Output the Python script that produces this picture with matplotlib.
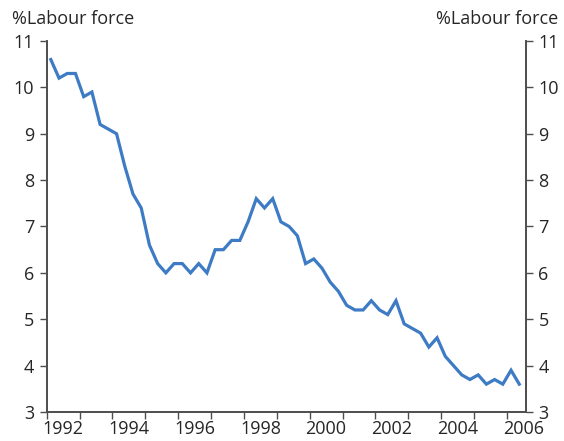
import matplotlib
matplotlib.use("Agg")
import matplotlib.pyplot as plt
import numpy as np

# quarterly unemployment rate, % of labour force, 1992 Q1 .. 2006 Q2
start_year = 1992
rate = [10.6, 10.2, 10.3, 10.3,
        9.8, 9.9, 9.2, 9.1,
        9.0, 8.3, 7.7, 7.4,
        6.6, 6.2, 6.0, 6.2,
        6.2, 6.0, 6.2, 6.0,
        6.5, 6.5, 6.7, 6.7,
        7.1, 7.6, 7.4, 7.6,
        7.1, 7.0, 6.8, 6.2,
        6.3, 6.1, 5.8, 5.6,
        5.3, 5.2, 5.2, 5.4,
        5.2, 5.1, 5.4, 4.9,
        4.8, 4.7, 4.4, 4.6,
        4.2, 4.0, 3.8, 3.7,
        3.8, 3.6, 3.7, 3.6,
        3.9, 3.6]
year_ticks = list(range(1992, 2007))
year_labels = [str(y) for y in range(1992, 2007, 2)]
y_ticks = list(range(3, 12))
unit_label = "%Labour force"

plt.rcParams['font.family'] = ['Open Sans', 'DejaVu Sans']
text_col = "#262626"
spine_col = "#4d4d4d"

fig = plt.figure(figsize=(5.64, 4.41), dpi=100)
ax = fig.add_axes([0.0828, 0.0658, 0.8498, 0.8412])

x = start_year + (np.arange(len(rate)) + 0.5) / 4
ax.plot(x, rate, color="#3d7bc4", lw=2.3, solid_joinstyle="miter")

ax.set_xlim(1992, 2006.58)
ax.set_ylim(3, 11)

# year boundaries as ticks, labels centred on every second year
ax.set_xticks(year_ticks)
ax.set_xticklabels([])
ax.set_xticks([int(l) + 0.5 for l in year_labels], minor=True)
ax.set_xticklabels(year_labels, minor=True)
ax.tick_params(axis="x", which="major", direction="out", length=5, width=1, color=spine_col)
ax.tick_params(axis="x", which="minor", length=0, pad=6, labelsize=13, labelcolor=text_col)

ax.set_yticks(y_ticks)
ax.tick_params(axis="y", direction="out", length=5, width=1, color=spine_col,
               labelsize=13, labelcolor=text_col, pad=4)

ax2 = ax.twinx()
ax2.set_ylim(ax.get_ylim())
ax2.set_yticks(y_ticks)
ax2.tick_params(axis="y", direction="out", length=5, width=1, color=spine_col,
                labelsize=13, labelcolor=text_col, pad=4)

for a in (ax, ax2):
    a.spines["top"].set_visible(False)
    for s in ("left", "right", "bottom"):
        a.spines[s].set_color(spine_col)
        a.spines[s].set_linewidth(1.2)

fig.text(0.022, 0.958, unit_label, fontsize=13, color=text_col, ha="left", va="center")
fig.text(0.99, 0.958, unit_label, fontsize=13, color=text_col, ha="right", va="center")

fig.savefig("out.png", dpi=100)
